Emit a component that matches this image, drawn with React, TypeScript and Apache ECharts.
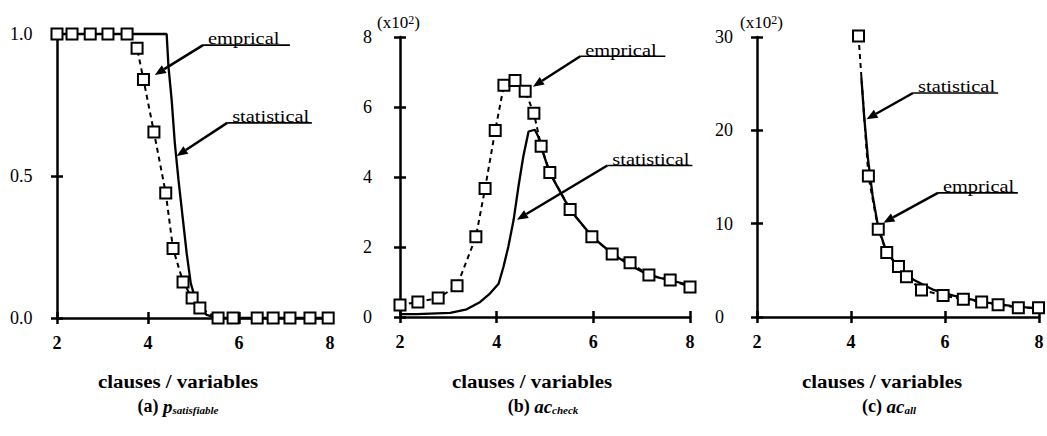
import React, { useEffect, useRef } from 'react';
import * as echarts from 'echarts';

const FONT = "'Liberation Serif', serif";

// ---- tick labels ----
const xTicks = [2, 4, 6, 8];
const yTicksA = [0, 0.5, 1.0];
const yTicksB = [0, 2, 4, 6, 8];
const yTicksC = [0, 10, 20, 30];

// ---- (a) p_satisfiable ----
const aEmpX = [2.0, 2.33, 2.73, 3.12, 3.54, 3.76, 3.9, 4.13, 4.39, 4.55, 4.77, 4.97, 5.14, 5.54, 5.87, 6.4, 6.75, 7.12, 7.56, 7.96];
const aEmpY = [1, 1, 1, 1, 1, 0.95, 0.84, 0.655, 0.44, 0.245, 0.127, 0.07, 0.035, 0, 0, 0, 0, 0, 0, 0];
const aStatX = [2, 4.41, 4.45, 4.52, 4.59, 4.67, 4.76, 4.85, 4.94, 5.07, 5.29, 5.51, 8];
const aStatY = [1, 1, 0.885, 0.768, 0.615, 0.486, 0.357, 0.228, 0.122, 0.052, 0.011, 0, 0];

// ---- (b) ac_check (x10^2) ----
const bEmpX = [2.0, 2.37, 2.79, 3.18, 3.57, 3.76, 3.97, 4.15, 4.38, 4.59, 4.77, 4.92, 5.1, 5.52, 5.97, 6.39, 6.76, 7.15, 7.59, 8.0];
const bEmpY = [0.34, 0.43, 0.54, 0.89, 2.29, 3.67, 5.33, 6.62, 6.76, 6.45, 5.82, 4.88, 4.13, 3.07, 2.29, 1.8, 1.55, 1.2, 1.06, 0.86];
const bStatX = [2, 2.35, 3.04, 3.38, 3.66, 3.86, 4.04, 4.14, 4.24, 4.35, 4.45, 4.55, 4.66, 4.79, 4.86, 4.93, 5.1, 5.52, 5.98, 6.4, 6.76, 7.15, 7.59, 8.0];
const bStatY = [0.08, 0.08, 0.12, 0.22, 0.43, 0.67, 0.95, 1.43, 2.0, 2.77, 3.72, 4.58, 5.3, 5.35, 5.16, 4.82, 4.11, 3.06, 2.29, 1.8, 1.48, 1.19, 1.05, 0.91];

// ---- (c) ac_all (x10^2) ----
const cEmpX = [4.16, 4.37, 4.58, 4.76, 5.01, 5.18, 5.5, 5.96, 6.39, 6.78, 7.13, 7.56, 7.99];
const cEmpY = [30.1, 15.1, 9.4, 6.9, 5.4, 4.3, 2.9, 2.3, 1.9, 1.6, 1.3, 1.0, 1.0];
const cStatX = [4.22, 4.28, 4.36, 4.46, 4.58, 4.76, 5.04, 5.33, 5.76, 6.18, 6.82, 7.4, 7.99];
const cStatY = [25.7, 21.5, 17, 13, 9.6, 6.9, 5.2, 4.0, 2.9, 2.3, 1.6, 1.2, 0.9];

// ---- annotation callouts (data coords of each panel) ----
const annLabels = ['emprical', 'statistical', 'emprical', 'statistical', 'statistical', 'emprical'];
const annPanel = [0, 0, 1, 1, 2, 2];
const annTip = [[4.15, 0.856], [4.63, 0.57], [4.75, 6.58], [4.42, 2.78], [4.33, 21.2], [4.69, 10.1]];
const annElbow = [[5.21, 0.961], [5.74, 0.687], [5.73, 7.45], [6.29, 4.33], [5.32, 24.0], [5.85, 13.3]];
const annEndX = [7.12, 7.6, 7.49, 8.05, 7.13, 7.55];

const axisNames = ['clauses / variables', 'clauses / variables', 'clauses / variables'];
const captions = [
  '{n|(a) }{i|p}{s|satisfiable}',
  '{n|(b) }{i|ac}{s|check}',
  '{n|(c) }{i|ac}{s|all}',
];

const zip = (xs: number[], ys: number[]) => xs.map((x, i) => [x, ys[i]]);

const grids = [
  { left: 57, top: 34, width: 273, height: 284 },
  { left: 400, top: 37, width: 290, height: 280 },
  { left: 757, top: 37, width: 282, height: 280 },
];
const yTickSets = [yTicksA, yTicksB, yTicksC];
const yLabelMargins = [47, 37, 42];
const namePos = [[178, 381], [532, 381], [882, 381]];
const capPos = [[178, 406], [543, 406], [889, 406]];
const supPos = [[377, 22], [740, 22]];

const AX_LINE = { color: '#000', width: 2.5 };

function buildOption() {
  const xAxis: any[] = [];
  const yAxis: any[] = [];
  grids.forEach((_, i) => {
    const xr = { min: xTicks[0], max: xTicks[xTicks.length - 1], interval: xTicks[1] - xTicks[0] };
    const yt = yTickSets[i];
    const yr = { min: yt[0], max: yt[yt.length - 1], interval: yt[1] - yt[0] };
    xAxis.push({
      type: 'value', gridIndex: i, position: 'bottom', ...xr,
      axisLine: { show: true, onZero: false, lineStyle: AX_LINE },
      axisTick: { show: true, length: 6, lineStyle: AX_LINE },
      axisLabel: { color: '#000', fontFamily: FONT, fontSize: 18, fontWeight: 'bold', margin: 16 },
      splitLine: { show: false },
    });
    xAxis.push({
      type: 'value', gridIndex: i, position: 'bottom', ...xr,
      axisLine: { show: false },
      axisTick: { show: true, inside: true, length: 6, lineStyle: AX_LINE },
      axisLabel: { show: false },
      splitLine: { show: false },
    });
    yAxis.push({
      type: 'value', gridIndex: i, position: 'left', ...yr,
      axisLine: { show: true, onZero: false, lineStyle: AX_LINE },
      axisTick: { show: true, length: 6, lineStyle: AX_LINE },
      axisLabel: {
        color: '#000', fontFamily: FONT, fontSize: 18, align: 'left', margin: yLabelMargins[i],
        formatter: i === 0 ? (v: number) => v.toFixed(1) : (v: number) => String(v),
      },
      splitLine: { show: false },
    });
    yAxis.push({
      type: 'value', gridIndex: i, position: 'left', ...yr,
      axisLine: { show: false },
      axisTick: { show: true, inside: true, length: 6, lineStyle: AX_LINE },
      axisLabel: { show: false },
      splitLine: { show: false },
    });
  });

  const statData = [zip(aStatX, aStatY), zip(bStatX, bStatY), zip(cStatX, cStatY)];
  const empData = [zip(aEmpX, aEmpY), zip(bEmpX, bEmpY), zip(cEmpX, cEmpY)];
  const series: any[] = [];
  grids.forEach((_, i) => {
    series.push({
      type: 'line', name: 'statistical', xAxisIndex: 2 * i, yAxisIndex: 2 * i,
      data: statData[i], symbol: 'none', clip: false, z: 2,
      lineStyle: { color: '#000', width: 2.3 },
    });
    series.push({
      type: 'line', name: 'emprical', xAxisIndex: 2 * i, yAxisIndex: 2 * i,
      data: empData[i], symbol: 'rect', symbolSize: 11, clip: false, z: 3,
      itemStyle: { color: '#fff', borderColor: '#000', borderWidth: 2 },
      lineStyle: { color: '#000', width: 2, type: [5, 4] },
    });
  });

  return {
    animation: false,
    backgroundColor: '#fff',
    textStyle: { fontFamily: FONT },
    grid: grids.map((g) => ({ ...g, containLabel: false })),
    xAxis,
    yAxis,
    series,
  };
}

function buildGraphic(chart: any) {
  const els: any[] = [];
  annLabels.forEach((label, k) => {
    const gi = annPanel[k];
    const tip = chart.convertToPixel({ gridIndex: gi }, annTip[k]);
    const elb = chart.convertToPixel({ gridIndex: gi }, annElbow[k]);
    const end = chart.convertToPixel({ gridIndex: gi }, [annEndX[k], annElbow[k][1]]);
    const dx = tip[0] - elb[0];
    const dy = tip[1] - elb[1];
    const len = Math.sqrt(dx * dx + dy * dy);
    const ux = dx / len;
    const uy = dy / len;
    const L = 11;
    const W = 4.5;
    const bx = tip[0] - ux * L;
    const by = tip[1] - uy * L;
    els.push({
      type: 'line', silent: true,
      shape: { x1: elb[0], y1: elb[1], x2: bx, y2: by },
      style: { stroke: '#000', lineWidth: 2.5 },
    });
    els.push({
      type: 'line', silent: true,
      shape: { x1: elb[0], y1: elb[1], x2: end[0], y2: elb[1] },
      style: { stroke: '#000', lineWidth: 1.6 },
    });
    els.push({
      type: 'polygon', silent: true,
      shape: { points: [[tip[0], tip[1]], [bx - uy * W, by + ux * W], [bx + uy * W, by - ux * W]] },
      style: { fill: '#000' },
    });
    els.push({
      type: 'text', silent: true, x: elb[0] + 5, y: elb[1] + 2, scaleX: 1.2,
      style: {
        text: label, fill: '#000', fontFamily: FONT, fontSize: 17,
        align: 'left', verticalAlign: 'bottom',
      },
    });
  });
  axisNames.forEach((name, i) => {
    els.push({
      type: 'text', silent: true, x: namePos[i][0], y: namePos[i][1], scaleX: 1.1,
      style: {
        text: name, fill: '#000', fontFamily: FONT, fontSize: 19, fontWeight: 'bold',
        align: 'center', verticalAlign: 'middle',
      },
    });
  });
  captions.forEach((cap, i) => {
    els.push({
      type: 'text', silent: true, x: capPos[i][0], y: capPos[i][1],
      style: {
        text: cap, fill: '#000', align: 'center', verticalAlign: 'middle',
        fontFamily: FONT, fontSize: 18,
        rich: {
          n: { fontFamily: FONT, fontSize: 18, fontWeight: 'bold', fill: '#000' },
          i: { fontFamily: FONT, fontSize: 19, fontWeight: 'bold', fontStyle: 'italic', fill: '#000' },
          s: { fontFamily: FONT, fontSize: 11, fontWeight: 'bold', fontStyle: 'italic', fill: '#000', verticalAlign: 'bottom' },
        },
      },
    });
  });
  supPos.forEach((p) => {
    els.push({
      type: 'text', silent: true, x: p[0], y: p[1],
      style: {
        text: '(x10{sup|2})', fill: '#000', fontFamily: FONT, fontSize: 17,
        align: 'left', verticalAlign: 'middle',
        rich: { sup: { fontFamily: FONT, fontSize: 12, fill: '#000', verticalAlign: 'top' } },
      },
    });
  });
  return els;
}

export default function App() {
  const ref = useRef<HTMLDivElement>(null);
  useEffect(() => {
    if (!ref.current) return;
    const chart = echarts.init(ref.current, undefined, { renderer: 'svg' });
    chart.setOption(buildOption());
    chart.setOption({ graphic: buildGraphic(chart) });
    return () => chart.dispose();
  }, []);
  return (
    <div
      ref={ref}
      style={{ position: 'fixed', left: 0, top: 0, width: 1047, height: 436, background: '#fff' }}
    />
  );
}
